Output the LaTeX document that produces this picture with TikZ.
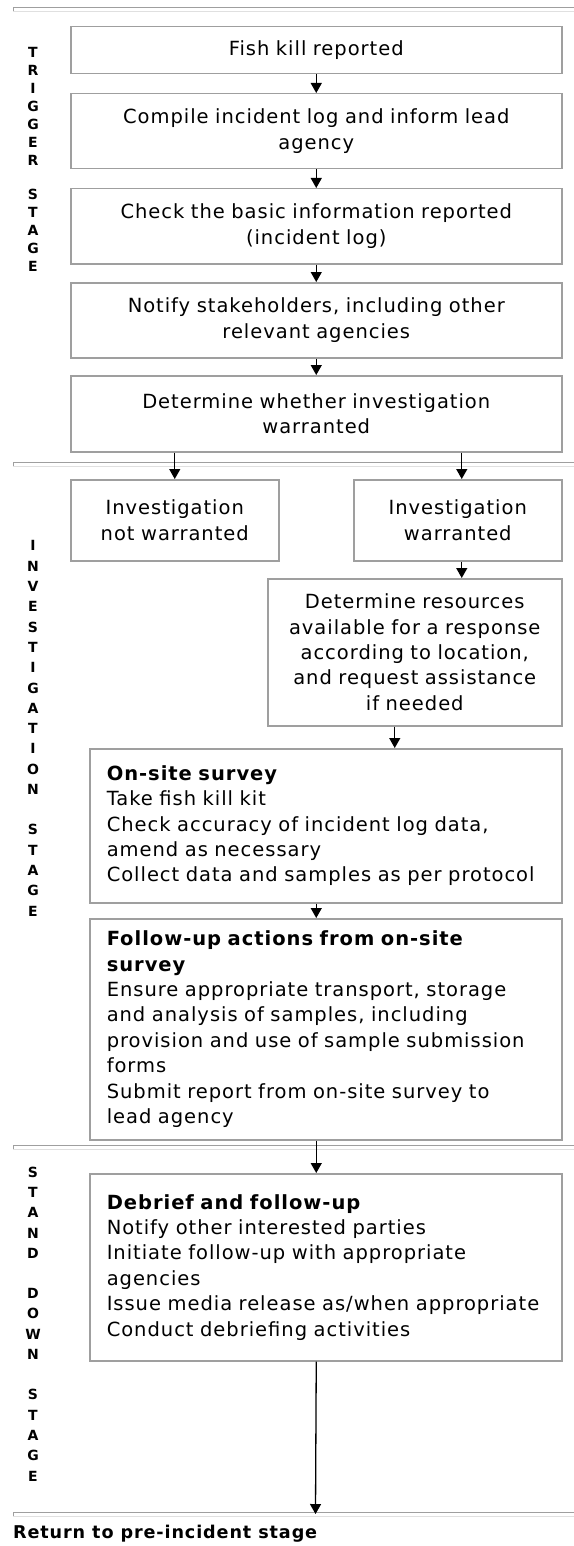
\documentclass[tikz,border=0pt]{standalone}
\usepackage{fontspec}
\setmainfont{DejaVu Sans}[LetterSpace=5]
\usetikzlibrary{arrows.meta}
\newcommand\bodyfont{\fontsize{19.5}{25.4}\selectfont}
\newcommand\stagefont[1]{\bfseries\fontsize{14}{#1}\selectfont}
\tikzset{
  box/.style={draw=gray!75, line width=1.5pt, rectangle, anchor=north west, inner ysep=0pt, font=\bodyfont},
  ctrbox/.style={box, align=center, inner xsep=0pt},
  listbox/.style={box, align=left, inner xsep=17pt, text width=438pt},
  stagelbl/.style={anchor=north, inner sep=0pt, align=center},
  hrdark/.style={draw=gray!75, line width=1pt},
  hrlight/.style={draw=black!12, line width=1pt},
}
\begin{document}
\begin{tikzpicture}[x=1pt,y=-1pt,>={Triangle[length=10pt,width=11pt]},line cap=butt]
	\useasboundingbox (0,0) rectangle (573,1546);
	% stage rules
	\draw [hrdark] (13,12)--(13,8)--(575,8);
	\draw [hrlight] (13,12)--(575,12);
	\draw [hrdark] (13,466)--(13,462)--(575,462);
	\draw [hrlight] (13,466)--(575,466);
	\draw [hrdark] (13,1149)--(13,1145)--(575,1145);
	\draw [hrlight] (13,1149)--(575,1149);
	\draw [hrdark] (13,1516)--(13,1512)--(575,1512);
	\draw [hrlight] (13,1516)--(575,1516);
	% stage names
	\node [stagelbl, font=\stagefont{18}] (trigLbl) at (33,47.5) {T\\R\\I\\G\\G\\E\\R\\[16pt]S\\T\\A\\G\\E};
	\node [stagelbl, font=\stagefont{20.3}] (invLbl) at (33,540.5) {I\\N\\V\\E\\S\\T\\I\\G\\A\\T\\I\\O\\N\\[20pt]S\\T\\A\\G\\E};
	\node [stagelbl, font=\stagefont{20.3}] (downLbl) at (33,1166.5) {S\\T\\A\\N\\D\\[20pt]D\\O\\W\\N\\[20pt]S\\T\\A\\G\\E};
	% trigger stage
	\node [ctrbox, text width=491pt, minimum height=47pt] (fish) at (70,26) {Fish kill reported};
	\node [ctrbox, text width=491pt, minimum height=75pt] (compile) at (70,93) {Compile incident log and inform lead\\agency};
	\node [ctrbox, text width=491pt, minimum height=75pt] (check) at (70,188) {Check the basic information reported\\(incident log)};
	\node [ctrbox, text width=491pt, minimum height=75pt] (notify) at (70,282) {Notify stakeholders, including other\\relevant agencies};
	\node [ctrbox, text width=491pt, minimum height=76pt] (decide) at (70,375) {Determine whether investigation\\warranted};
	% investigation stage
	\node [ctrbox, text width=208pt, minimum height=81pt] (notwarr) at (70,479) {Investigation\\not warranted};
	\node [ctrbox, text width=208pt, minimum height=81pt] (warr) at (353,479) {Investigation\\warranted};
	\node [ctrbox, text width=294pt, minimum height=147pt] (resources) at (267,578) {Determine resources\\available for a response\\according to location,\\and request assistance\\if needed};
	\node [listbox, minimum height=154pt] (onsite) at (89,748) {\textbf{On-site survey}\\Take fish kill kit\\Check accuracy of incident log data,\\amend as necessary\\Collect data and samples as per protocol};
	\node [listbox, minimum height=221pt] (followup) at (89,918) {\textbf{Follow-up actions from on-site}\\\textbf{survey}\\Ensure appropriate transport, storage\\and analysis of samples, including\\provision and use of sample submission\\forms\\Submit report from on-site survey to\\lead agency};
	% stand down stage
	\node [listbox, minimum height=187pt] (debrief) at (89,1173) {\textbf{Debrief and follow-up}\\Notify other interested parties\\Initiate follow-up with appropriate\\agencies\\Issue media release as/when appropriate\\Conduct debriefing activities};
	\coordinate (retTop) at (315.5,1514);
	\node [anchor=west, inner sep=0pt, font=\bfseries\fontsize{17.6}{20}\selectfont] (ret) at (13,1534) {Return to pre-incident stage};
	% arrows
	\draw [->, line width=1.3pt] (fish) -- (compile);
	\draw [->, line width=1.3pt] (compile) -- (check);
	\draw [->, line width=1.3pt] (check) -- (notify);
	\draw [->, line width=1.3pt] (notify) -- (decide);
	\draw [->, line width=1.3pt] (decide.south -| notwarr.north) -- (notwarr.north);
	\draw [->, line width=1.3pt] ([xshift=4pt]decide.south -| warr.north) -- ([xshift=4pt]warr.north);
	\draw [->, line width=1.3pt] ([xshift=4pt]warr.south) -- ([xshift=4pt]warr.south |- resources.north);
	\draw [->, line width=1.3pt] ([xshift=-20pt]resources.south) -- ([xshift=-20pt]resources.south |- onsite.north);
	\draw [->, line width=1.3pt] (onsite.south -| fish.south) -- (followup.north -| fish.south);
	\draw [->, line width=1.3pt] (followup.south -| fish.south) -- (debrief.north -| fish.south);
	\draw [->, line width=1.3pt] (debrief.south -| fish.south) -- (retTop);
\end{tikzpicture}
\end{document}
